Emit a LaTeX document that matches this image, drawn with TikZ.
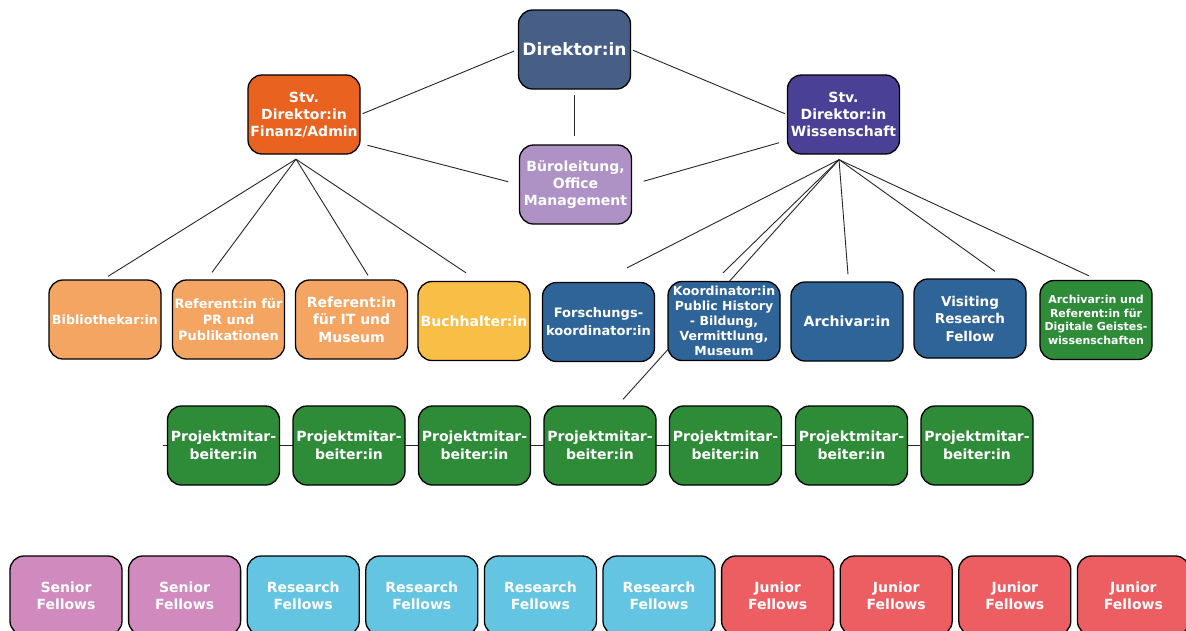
\documentclass[tikz,border=0pt]{standalone}
\usepackage{fontspec}
\setmainfont{DejaVu Sans}
\usetikzlibrary{backgrounds,calc}
\definecolor{dirc}{RGB}{71,95,134}
\definecolor{finc}{RGB}{234,98,32}
\definecolor{wissc}{RGB}{74,65,150}
\definecolor{buroc}{RGB}{175,146,197}
\definecolor{lorc}{RGB}{244,165,98}
\definecolor{buchc}{RGB}{249,190,69}
\definecolor{bluec}{RGB}{47,100,153}
\definecolor{greenc}{RGB}{46,139,56}
\definecolor{seniorc}{RGB}{208,138,189}
\definecolor{researchc}{RGB}{99,197,225}
\definecolor{juniorc}{RGB}{236,94,98}
\newcommand\fz[2]{\fontsize{#1}{#2}\selectfont}
\tikzset{
  box/.style={draw=black, line width=1.3pt, rounded corners=14pt,
    minimum width=112pt, minimum height=79pt, inner sep=0pt,
    align=center, text=white},
  conn/.style={draw=black!85, line width=0.9pt},
}
\begin{document}
\begin{tikzpicture}[x=1pt,y=-1pt]
\useasboundingbox (0,0) rectangle (1186,630);
\clip (0,0) rectangle (1186,630);
% top level
\node[box,fill=dirc,font=\bfseries\fz{17}{20}] (dir) at (574.5,49.5) {Direktor:in};
\node[box,fill=finc,font=\bfseries\fz{14}{17}] (fin) at (304,114.5) {Stv.\\Direktor:in\\Finanz/Admin};
\node[box,fill=wissc,font=\bfseries\fz{14}{17}] (wiss) at (843.5,114.5) {Stv.\\Direktor:in\\Wissenschaft};
\node[box,fill=buroc,font=\bfseries\fz{14}{17}] (buro) at (575.5,184.5) {Büroleitung,\\Office\\Management};
% second row left
\node[box,fill=lorc,font=\bfseries\fz{12.7}{16}] (bib) at (105,319.5) {Bibliothekar:in};
\node[box,fill=lorc,font=\bfseries\fz{12.9}{16}] (pr) at (228.5,319.5) {Referent:in für\\PR und\\Publikationen};
\node[box,fill=lorc,font=\bfseries\fz{14}{17.5}] (it) at (351.5,319.5) {Referent:in\\für IT und\\Museum};
\node[box,fill=buchc,font=\bfseries\fz{14}{17}] (buch) at (474,321) {Buchhalter:in};
% second row right
\node[box,fill=bluec,font=\bfseries\fz{13}{18}] (fors) at (598.5,322) {Forschungs-\\koordinator:in};
\node[box,fill=bluec,font=\bfseries\fz{12.5}{15}] (koord) at (724,321) {Koordinator:in\\Public History\\- Bildung,\\Vermittlung,\\Museum};
\node[box,fill=bluec,font=\bfseries\fz{14}{17}] (arch) at (847,321.5) {Archivar:in};
\node[box,fill=bluec,font=\bfseries\fz{13.5}{17.5}] (vis) at (970,318.5) {Visiting\\Research\\Fellow};
\node[box,fill=greenc,font=\bfseries\fz{11}{13.7}] (au) at (1096,320) {Archivar:in und\\Referent:in für\\Digitale Geistes-\\wissenschaften};
% project row
\foreach \i/\x in {1/223.5,2/349,3/474.5,4/600,5/725.5,6/851.5,7/977}{
  \node[box,fill=greenc,font=\bfseries\fz{14}{18}] (p\i) at (\x,445.5) {Projektmitar-\\beiter:in};
}
% fellows row
\foreach \i/\x/\c/\t in {1/66/seniorc/Senior,2/184.6/seniorc/Senior,3/303.2/researchc/Research,4/421.8/researchc/Research,5/540.4/researchc/Research,6/659/researchc/Research,7/777.6/juniorc/Junior,8/896.2/juniorc/Junior,9/1014.8/juniorc/Junior,10/1133.4/juniorc/Junior}{
  \node[box,fill=\c,font=\bfseries\fz{14}{17}] (f\i) at (\x,595.5) {\t\\Fellows};
}
% connectors
\begin{scope}[on background layer]
\draw[conn, shorten <=2pt, shorten >=4pt] (fin.east) -- (dir.west);
\draw[conn, shorten <=2pt, shorten >=2pt] (dir.east) -- (wiss.west);
\draw[conn, shorten <=5pt, shorten >=8pt] (dir.south) -- (dir.south |- buro.north);
\draw[conn, shorten <=7pt, shorten >=11pt] ($(fin.east)+(0,29)$) -- (buro.west);
\draw[conn, shorten <=12pt, shorten >=8pt] (buro.east) -- ($(wiss.west)+(0,26)$);
\coordinate (finhub) at ($(fin.south)+(-8,4.5)$);
\draw[conn] (finhub) -- ($(bib.north)+(3,-3)$);
\draw[conn] (finhub) -- ($(pr.north)+(-16.5,-7)$);
\draw[conn] (finhub) -- ($(it.north)+(16.5,-4)$);
\draw[conn] (finhub) -- ($(buch.north)+(-8,-8)$);
\coordinate (wisshub) at ($(wiss.south)+(-4.5,5)$);
\draw[conn] (wisshub) -- ($(fors.north)+(28.5,-14)$);
\draw[conn] (wisshub) -- ($(koord.north)+(-1,-8)$);
\draw[conn] (wisshub) -- ($(p4.north)+(23,-6)$);
\draw[conn] (wisshub) -- ($(arch.north)+(1,-7)$);
\draw[conn] (wisshub) -- ($(vis.north)+(25,-7)$);
\draw[conn] (wisshub) -- ($(au.north)+(-7,-4)$);
\draw[conn] ($(p1.west)+(-4,0)$) -- (p7.west);
\end{scope}
\end{tikzpicture}
\end{document}
